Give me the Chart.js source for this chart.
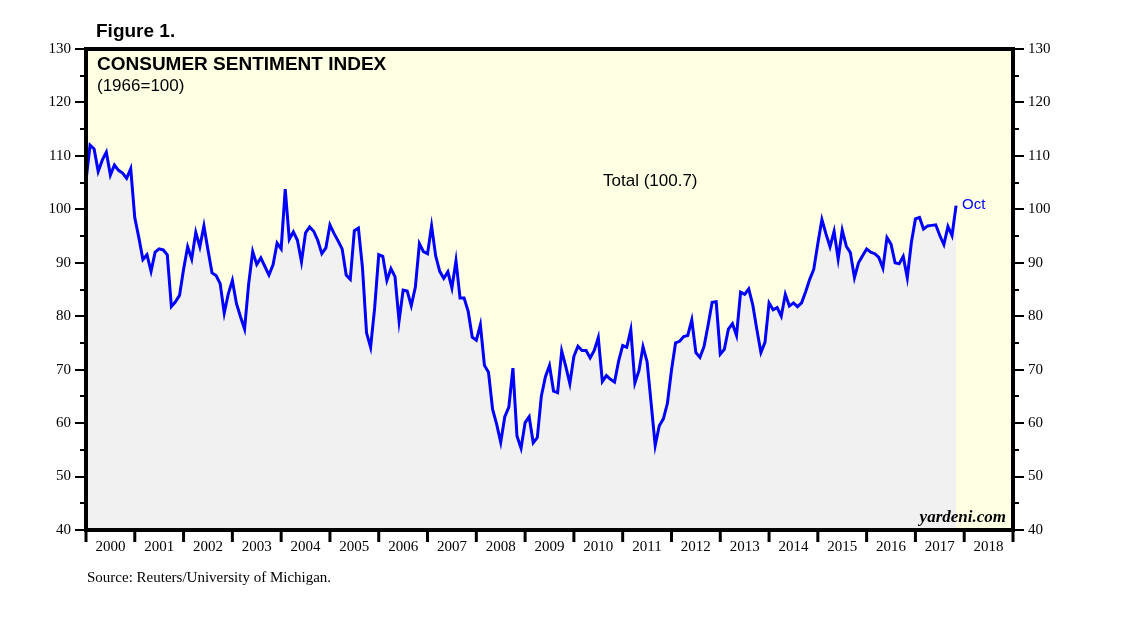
<!DOCTYPE html>
<html>
<head>
<meta charset="utf-8">
<script src="https://cdn.jsdelivr.net/npm/chart.js@4"></script>
<style>
  body { margin: 0; background: #fff; }
  #wrap { width: 1138px; height: 621px; }
</style>
</head>
<body>
<div id="wrap"><canvas id="sentimentChart" width="1138" height="621"></canvas></div>
<script>
// year labels along the bottom axis
const years = ["2000", "2001", "2002", "2003", "2004", "2005", "2006", "2007", "2008", "2009",
               "2010", "2011", "2012", "2013", "2014", "2015", "2016", "2017", "2018"];
const yTicks = [40, 50, 60, 70, 80, 90, 100, 110, 120, 130];

// monthly index, Dec 1999 through Oct 2017
const sentiment = [
  105.4,
  112.0, 111.3, 107.1, 109.2, 110.7, 106.4, 108.3, 107.3, 106.8, 105.8, 107.6, 98.4,
  94.7, 90.6, 91.5, 88.4, 92.0, 92.6, 92.4, 91.5, 81.8, 82.7, 83.9, 88.8,
  93.0, 90.7, 95.7, 93.0, 96.9, 92.4, 88.1, 87.6, 86.1, 80.6, 84.2, 86.7,
  82.4, 79.9, 77.6, 86.0, 92.1, 89.7, 90.9, 89.3, 87.7, 89.6, 93.7, 92.6,
  103.8, 94.4, 95.8, 94.2, 90.2, 95.6, 96.7, 95.9, 94.2, 91.7, 92.8, 97.1,
  95.5, 94.1, 92.6, 87.7, 86.9, 96.0, 96.5, 89.1, 76.9, 74.2, 81.6, 91.5,
  91.2, 86.7, 88.9, 87.4, 79.1, 84.9, 84.7, 82.0, 85.4, 93.6, 92.1, 91.7,
  96.9, 91.3, 88.4, 87.1, 88.3, 85.3, 90.4, 83.4, 83.4, 80.9, 76.1, 75.5,
  78.4, 70.8, 69.5, 62.6, 59.8, 56.4, 61.2, 63.0, 70.3, 57.6, 55.3, 60.1,
  61.2, 56.3, 57.3, 65.1, 68.7, 70.8, 66.0, 65.7, 73.5, 70.6, 67.4, 72.5,
  74.4, 73.6, 73.6, 72.2, 73.6, 76.0, 67.8, 68.9, 68.2, 67.7, 71.6, 74.5,
  74.2, 77.5, 67.5, 69.8, 74.3, 71.5, 63.7, 55.8, 59.5, 60.8, 63.7, 69.9,
  75.0, 75.3, 76.2, 76.4, 79.3, 73.2, 72.3, 74.3, 78.3, 82.6, 82.7, 72.9,
  73.8, 77.6, 78.6, 76.4, 84.5, 84.1, 85.1, 82.1, 77.5, 73.2, 75.1, 82.5,
  81.2, 81.6, 80.0, 84.1, 81.9, 82.5, 81.8, 82.5, 84.6, 86.9, 88.8, 93.6,
  98.1, 95.4, 93.0, 95.9, 90.7, 96.1, 93.1, 91.9, 87.2, 90.0, 91.3, 92.6,
  92.0, 91.7, 91.0, 89.0, 94.7, 93.5, 90.0, 89.8, 91.2, 87.2, 93.8, 98.2,
  98.5, 96.3, 96.9, 97.0, 97.1, 95.1, 93.4, 96.8, 95.1, 100.7
];

const points = sentiment.map((v, i) => ({ x: i, y: v }));
const lastValue = sentiment[sentiment.length - 1];

const serif = '"Liberation Serif", "Times New Roman", serif';
const sans = '"Liberation Sans", Arial, sans-serif';

// background, frame, tick marks and annotations
const decor = {
  id: "decor",
  beforeDatasetsDraw(chart) {
    const { ctx, chartArea: a } = chart;
    ctx.save();
    ctx.fillStyle = "#FFFFE3";
    ctx.fillRect(a.left, a.top, a.right - a.left, a.bottom - a.top);
    ctx.restore();
  },
  afterDatasetsDraw(chart) {
    const { ctx, chartArea: a, scales } = chart;
    const x = scales.x, y = scales.y;
    ctx.save();
    ctx.strokeStyle = "#000";

    // y ticks, both sides
    ctx.lineWidth = 2;
    for (let v = 40; v <= 130; v += 5) {
      const py = Math.round(y.getPixelForValue(v));
      const len = v % 10 === 0 ? 11 : 6;
      ctx.beginPath();
      ctx.moveTo(a.left - len, py); ctx.lineTo(a.left, py);
      ctx.moveTo(a.right, py); ctx.lineTo(a.right + len, py);
      ctx.stroke();
    }
    // x ticks at year boundaries
    ctx.lineWidth = 3;
    for (let i = 0; i <= years.length; i++) {
      const px = x.getPixelForValue(i * 12);
      ctx.beginPath();
      ctx.moveTo(px, a.bottom); ctx.lineTo(px, a.bottom + 12);
      ctx.stroke();
    }
    // frame
    ctx.lineWidth = 4;
    ctx.strokeRect(a.left, a.top, a.right - a.left, a.bottom - a.top);

    // texts
    ctx.fillStyle = "#000";
    ctx.textAlign = "left";
    ctx.textBaseline = "alphabetic";
    ctx.font = "bold 19px " + sans;
    ctx.fillText("Figure 1.", 96, 37);
    ctx.fillText("CONSUMER SENTIMENT INDEX", 97, 70);
    ctx.font = "17px " + sans;
    ctx.fillText("(1966=100)", 97, 91);
    ctx.font = "17px " + sans;
    ctx.fillText("Total (" + lastValue.toFixed(1) + ")", 603, 186);

    ctx.fillStyle = "#0000FF";
    ctx.font = "15px " + sans;
    const lx = x.getPixelForValue(sentiment.length - 1);
    ctx.fillText("Oct", lx + 6, y.getPixelForValue(lastValue) + 3);

    ctx.fillStyle = "#000";
    ctx.textAlign = "right";
    ctx.font = "italic bold 17px " + serif;
    ctx.fillText("yardeni.com", a.right - 7, a.bottom - 8);

    ctx.textAlign = "left";
    ctx.font = "15px " + serif;
    ctx.fillText("Source: Reuters/University of Michigan.", 87, 582);
    ctx.restore();
  }
};

const yAxis = (pos) => ({
  type: "linear",
  position: pos,
  min: 40,
  max: 130,
  afterBuildTicks: (s) => { s.ticks = yTicks.map(v => ({ value: v })); },
  afterFit: (s) => { s.width = pos === "left" ? 86 : 125; },
  grid: { display: false },
  border: { display: false },
  ticks: {
    padding: 7,
    color: "#000",
    font: { family: serif, size: 15 }
  }
});

new Chart(document.getElementById("sentimentChart"), {
  type: "line",
  data: {
    datasets: [{
      data: points,
      borderColor: "#0000FF",
      borderWidth: 3,
      backgroundColor: "#F1F1F1",
      fill: "start",
      pointRadius: 0,
      tension: 0
    }]
  },
  options: {
    responsive: false,
    animation: false,
    layout: { padding: { top: 49, left: 0, right: 0, bottom: 0 } },
    plugins: { legend: { display: false }, tooltip: { enabled: false } },
    scales: {
      x: {
        type: "linear",
        min: 0,
        max: years.length * 12,
        afterBuildTicks: (s) => { s.ticks = years.map((yr, i) => ({ value: i * 12 + 6 })); },
        afterFit: (s) => { s.height = 91; },
        grid: { display: false },
        border: { display: false },
        ticks: {
          padding: 0,
          maxRotation: 0,
          autoSkip: false,
          color: "#000",
          font: { family: serif, size: 15 },
          callback: (v) => years[Math.floor(v / 12)]
        }
      },
      y: yAxis("left"),
      y2: yAxis("right")
    }
  },
  plugins: [decor]
});
</script>
</body>
</html>
